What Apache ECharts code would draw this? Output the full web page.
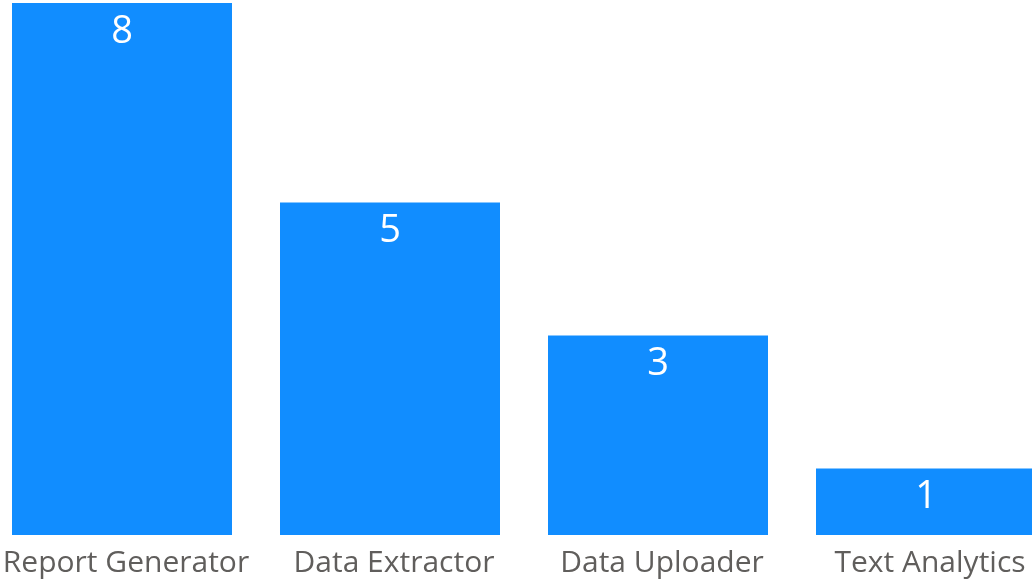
<!DOCTYPE html>
<html>
<head>
<meta charset="utf-8">
<script src="https://cdn.jsdelivr.net/npm/echarts@6/dist/echarts.min.js"></script>
<style>html,body{margin:0;padding:0;background:#fff;overflow:hidden;width:1032px;height:580px;}#c{width:1072px;height:580px;margin-left:-12px;}</style>
</head>
<body>
<div id="c"></div>
<script>
const categories = ['Report Generator', 'Data Extractor', 'Data Uploader', 'Text Analytics'];
const values = [8, 5, 3, 1];

const chart = echarts.init(document.getElementById('c'));
chart.setOption({
  animation: false,
  grid: { left: 0, right: 0, top: 3, bottom: 45, containLabel: false },
  xAxis: {
    type: 'category',
    data: categories,
    axisLine: { show: false },
    axisTick: { show: false },
    axisLabel: { color: '#605E5C', fontSize: 30, fontFamily: 'Open Sans', margin: 13, interval: 0, padding: [0, 0, 0, 8] }
  },
  yAxis: { type: 'value', min: 0, max: 8, show: false, splitLine: { show: false } },
  series: [{
    type: 'bar',
    data: values,
    barWidth: 220,
    itemStyle: { color: '#118DFF' },
    label: { show: true, position: 'insideTop', distance: 10, color: '#fff', fontSize: 38, fontFamily: 'Open Sans' }
  }]
});
</script>
</body>
</html>
